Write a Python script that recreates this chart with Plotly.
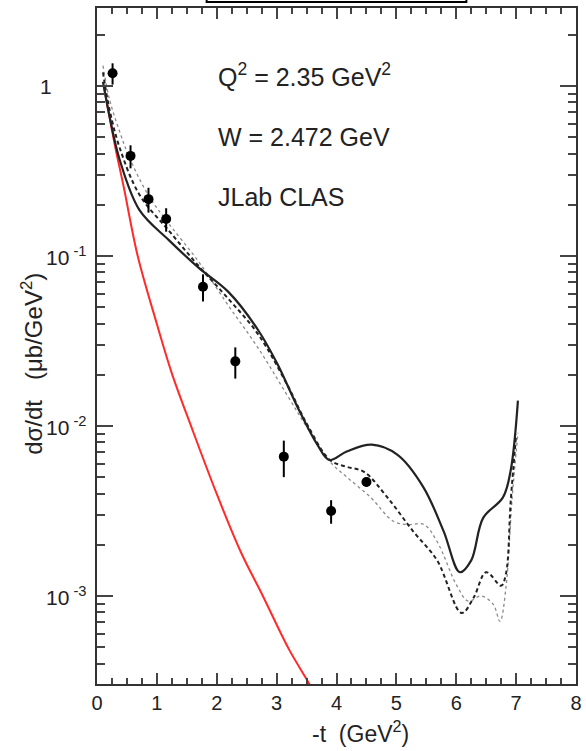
import plotly.graph_objects as go

# Data points (JLab CLAS)
t_data = [0.26, 0.56, 0.86, 1.155, 1.77, 2.31, 3.12, 3.91, 4.50]
y_data = [1.19, 0.388, 0.216, 0.165, 0.066, 0.024, 0.0066, 0.00316, 0.00468]
y_err = [0.17, 0.06, 0.036, 0.026, 0.012, 0.005, 0.0016, 0.0005, 0.0003]

# Red curve
t_red = [0.12, 0.30, 0.45, 0.68, 1.00, 1.25, 1.57, 2.00, 2.40, 2.77, 3.20, 3.55, 3.70]
y_red = [0.977, 0.447, 0.251, 0.100, 0.0398, 0.0204, 0.0100, 0.00398, 0.00182,
         0.00100, 0.00049, 0.000302, 0.00024]

# Solid black curve
t_solid = [0.10, 0.21, 0.38, 0.71, 1.20, 1.70, 2.19, 2.69, 3.02, 3.35, 3.68, 3.88,
           4.17, 4.59, 5.02, 5.45, 5.79, 6.06, 6.25, 6.45, 6.78, 6.91, 7.03]
y_solid = [1.057, 0.661, 0.367, 0.186, 0.124, 0.0851, 0.0617, 0.0367, 0.0229, 0.0129,
           0.00776, 0.00631, 0.00708, 0.00776, 0.00676, 0.00437, 0.0024, 0.00138,
           0.00162, 0.00288, 0.0038, 0.0055, 0.0141]

# Dashed black curve
t_dash = [0.10, 0.21, 0.38, 0.71, 1.20, 1.70, 2.19, 2.69, 3.18, 3.51, 3.89, 4.17,
          4.46, 4.85, 5.28, 5.68, 6.09, 6.29, 6.50, 6.75, 6.83, 6.91, 7.00]
y_dash = [1.202, 0.724, 0.432, 0.229, 0.141, 0.0871, 0.0562, 0.0347, 0.0174, 0.0102,
          0.00631, 0.00575, 0.00537, 0.0038, 0.0024, 0.00162, 0.000794, 0.000977,
          0.00138, 0.00115, 0.00135, 0.00363, 0.00891]

# Dotted grey curve
t_dot = [0.10, 0.21, 0.38, 0.54, 0.87, 1.20, 1.70, 2.19, 2.69, 3.18, 3.51, 3.89, 4.17,
         4.57, 4.95, 5.18, 5.46, 5.68, 6.01, 6.20, 6.42, 6.62, 6.73, 6.83, 6.93, 7.03]
y_dot = [1.318, 0.832, 0.537, 0.380, 0.224, 0.155, 0.0923, 0.0513, 0.0288, 0.0151,
         0.00977, 0.00617, 0.00501, 0.0038, 0.00275, 0.00263, 0.00263, 0.00209,
         0.00115, 0.000933, 0.001, 0.000891, 0.000708, 0.00112, 0.00363, 0.00912]

x_ticks = [0, 1, 2, 3, 4, 5, 6, 7, 8]
y_tick_exp = [-3, -2, -1, 0]
y_ticktext = ["10<sup> -3</sup>", "10<sup> -2</sup>", "10<sup> -1</sup>", "1"]
y_minor = [m * 10 ** e for e in (-4, -3, -2, -1, 0) for m in range(2, 10)]
x_minor = [i * 0.25 for i in range(33)]

FONT = "Liberation Sans, Arial, sans-serif"

fig = go.Figure()
fig.add_trace(go.Scatter(x=t_red, y=y_red, mode="lines", line=dict(color="#ff2a2a", width=2, shape="spline")))
fig.add_trace(go.Scatter(x=t_dot, y=y_dot, mode="lines", line=dict(color="#8a8a8a", width=1.3, dash="dot", shape="spline")))
fig.add_trace(go.Scatter(x=t_dash, y=y_dash, mode="lines", line=dict(color="#222222", width=2, dash="4px,3px", shape="spline")))
fig.add_trace(go.Scatter(x=t_solid, y=y_solid, mode="lines", line=dict(color="#222222", width=2.2, shape="spline")))
fig.add_trace(go.Scatter(x=t_data, y=y_data, mode="markers",
                         marker=dict(color="black", size=10),
                         error_y=dict(type="data", array=y_err, color="black", thickness=2, width=0)))

fig.update_layout(
    width=586, height=751,
    margin=dict(l=97, r=4, t=8, b=67),
    paper_bgcolor="white", plot_bgcolor="white",
    showlegend=False,
    font=dict(family=FONT, size=20, color="#222"),
    xaxis=dict(range=[0, 8], tickvals=x_ticks, ticks="inside", ticklen=11, tickwidth=1.5,
               tickcolor="#444", showline=True, linecolor="#333", linewidth=2, mirror="ticks",
               showgrid=False, zeroline=False, tickfont=dict(size=20),
               minor=dict(tickvals=x_minor, ticks="inside", ticklen=6, tickwidth=1.5, tickcolor="#444")),
    yaxis=dict(type="log", range=[-3.518, 0.459], tickvals=[10 ** e for e in y_tick_exp],
               showticklabels=False,
               ticks="inside", ticklen=16, tickwidth=1.5, tickcolor="#444", showline=True,
               linecolor="#333", linewidth=2, mirror="ticks", showgrid=False, zeroline=False,
               minor=dict(tickvals=y_minor, ticks="inside", ticklen=8, tickwidth=1.5, tickcolor="#444")),
)

# y tick labels (left aligned, as in the reference)
for e, txt in zip(y_tick_exp, y_ticktext):
    xpx = 37 if e == 0 else 43
    fig.add_annotation(xref="paper", yref="y", x=(xpx - 97) / 485, y=e, xanchor="left",
                       yanchor="middle", text=txt, showarrow=False, font=dict(size=21))

fig.add_annotation(xref="paper", yref="paper", x=(31 - 97) / 485, y=(684 - 364) / 676,
                   xanchor="center", yanchor="middle",
                   text="dσ/dt&nbsp;&nbsp;&nbsp;(μb/GeV<sup>2</sup>)",
                   textangle=-90, showarrow=False, font=dict(size=24))
fig.add_annotation(xref="paper", yref="paper", x=(364 - 97) / 485, y=(684 - 749) / 676,
                   xanchor="center", yanchor="bottom", text="-t&nbsp;&nbsp;(GeV<sup>2</sup>)",
                   showarrow=False, font=dict(size=23))
for txt, yp in [("Q<sup>2</sup> = 2.35 GeV<sup>2</sup>", 0.901),
                ("W = 2.472 GeV", 0.809),
                ("JLab CLAS", 0.720)]:
    fig.add_annotation(xref="paper", yref="paper", x=0.249, y=yp, xanchor="left", yanchor="middle",
                       text=txt, showarrow=False, font=dict(size=25))

fig.add_shape(type="rect", xref="paper", yref="paper", x0=(208 - 97) / 485, x1=(471 - 97) / 485,
              y0=1.0089, y1=1.05, line=dict(color="black", width=2))

fig.write_html("out.html")
